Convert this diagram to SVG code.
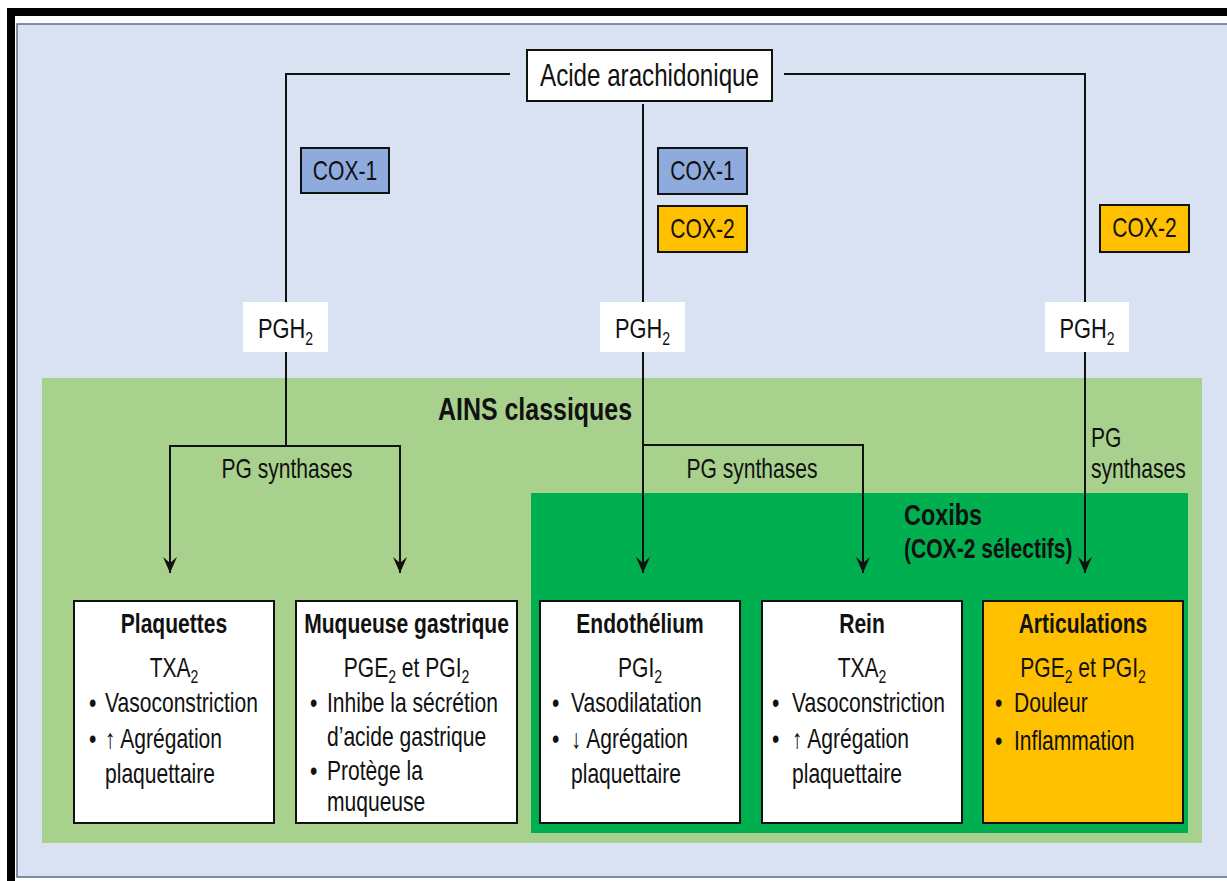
<svg xmlns="http://www.w3.org/2000/svg" width="1227" height="881" viewBox="0 0 1227 881">
<style>
text{font-family:"Liberation Sans",Arial,Helvetica,sans-serif;fill:#111}
.c{text-anchor:middle}
.b{font-weight:bold}
.f27{font-size:27px}
.f28{font-size:28px}
.f31{font-size:31px}
.sub{font-size:18px}
.box{stroke:#111;stroke-width:2}
.white{fill:#fff}
.cox1{fill:#8FAADC}
.cox2{fill:#FFC000}
</style>
<defs>
<marker id="arr" viewBox="-17 -8 18 16" refX="0" refY="0" markerWidth="18" markerHeight="16" markerUnits="userSpaceOnUse" orient="auto">
<path d="M0,0 L-16,-7 L-10,0 L-16,7 Z" fill="#111"/>
</marker>
</defs>
<rect x="0" y="0" width="1227" height="881" fill="#fff"/>
<g id="frame">
<rect x="17" y="24" width="1220" height="853" fill="#D9E2F3" stroke="#5B6B8C" stroke-width="1.5"/>
<rect x="7" y="8" width="1220" height="8" fill="#000"/>
<rect x="7" y="8" width="8" height="873" fill="#000"/>
</g>
<g id="ains-zone">
<rect x="42" y="378" width="1160" height="465" fill="#A9D18E"/>
<text class="b c" style="font-size:32px" transform="translate(535,420) scale(0.78,1)">AINS classiques</text>
</g>
<g id="coxibs-zone">
<rect x="531" y="493" width="657" height="340" fill="#00B050"/>
<text class="b" style="font-size:30px" transform="translate(904,525) scale(0.78,1)">Coxibs</text>
<text class="b f27" transform="translate(904,558) scale(0.78,1)">(COX-2 sélectifs)</text>
</g>
<g id="connectors" fill="none" stroke="#111" stroke-width="2">
<path d="M510,74 H286 V446"/>
<path d="M286,446 H170 V573" marker-end="url(#arr)"/>
<path d="M286,446 H400 V573" marker-end="url(#arr)"/>
<path d="M643,104 V573" marker-end="url(#arr)"/>
<path d="M643,445 H863 V573" marker-end="url(#arr)"/>
<path d="M784,74 H1085 V573" marker-end="url(#arr)"/>
</g>
<g id="edge-labels">
<text class="c f27" transform="translate(287,478) scale(0.78,1)">PG synthases</text>
<text class="c f27" transform="translate(752,478) scale(0.78,1)">PG synthases</text>
<text class="f27" transform="translate(1091,447) scale(0.78,1)">PG</text>
<text class="f27" transform="translate(1091,478) scale(0.78,1)">synthases</text>
</g>
<g id="acide">
<rect class="box white" x="527" y="50" width="245" height="51"/>
<text class="c f31" transform="translate(649.5,86) scale(0.78,1)">Acide arachidonique</text>
</g>
<g id="cox1-left">
<rect class="box cox1" x="301" y="148" width="88" height="45"/>
<text class="c f27" transform="translate(345,180) scale(0.78,1)">COX-1</text>
</g>
<g id="cox1-center">
<rect class="box cox1" x="658" y="148" width="89" height="46"/>
<text class="c f27" transform="translate(702.5,180) scale(0.78,1)">COX-1</text>
</g>
<g id="cox2-center">
<rect class="box cox2" x="658" y="206" width="89" height="46"/>
<text class="c f27" transform="translate(702.5,238) scale(0.78,1)">COX-2</text>
</g>
<g id="cox2-right">
<rect class="box cox2" x="1100" y="205" width="89" height="47"/>
<text class="c f27" transform="translate(1144.5,237) scale(0.78,1)">COX-2</text>
</g>
<g id="pgh2-left">
<rect class="white" x="243" y="302" width="85" height="50"/>
<text class="c f28" transform="translate(285.5,338) scale(0.78,1)">PGH<tspan class="sub" dy="7">2</tspan></text>
</g>
<g id="pgh2-center">
<rect class="white" x="600" y="302" width="85" height="50"/>
<text class="c f28" transform="translate(642.5,338) scale(0.78,1)">PGH<tspan class="sub" dy="7">2</tspan></text>
</g>
<g id="pgh2-right">
<rect class="white" x="1045" y="302" width="84" height="50"/>
<text class="c f28" transform="translate(1087,338) scale(0.78,1)">PGH<tspan class="sub" dy="7">2</tspan></text>
</g>
<g id="plaquettes">
<rect class="box white" x="74" y="601" width="200" height="222"/>
<text class="b c f27" transform="translate(174,633) scale(0.78,1)">Plaquettes</text>
<text class="c f27" transform="translate(174,677) scale(0.78,1)">TXA<tspan class="sub" dy="6">2</tspan></text>
<text class="f27" transform="translate(89,712) scale(0.78,1)">•</text>
<text class="f27" transform="translate(105,712) scale(0.78,1)">Vasoconstriction</text>
<text class="f27" transform="translate(89,748) scale(0.78,1)">•</text>
<text class="f27" transform="translate(105,748) scale(0.78,1)">↑ Agrégation</text>
<text class="f27" transform="translate(105,783) scale(0.78,1)">plaquettaire</text>
</g>
<g id="muqueuse">
<rect class="box white" x="296" y="601" width="221" height="222"/>
<text class="b c f27" transform="translate(406.5,633) scale(0.78,1)">Muqueuse gastrique</text>
<text class="c f27" transform="translate(406.5,677) scale(0.78,1)">PGE<tspan class="sub" dy="6">2</tspan><tspan dy="-6"> et PGI</tspan><tspan class="sub" dy="6">2</tspan></text>
<text class="f27" transform="translate(310,712) scale(0.78,1)">•</text>
<text class="f27" transform="translate(327,712) scale(0.78,1)">Inhibe la sécrétion</text>
<text class="f27" transform="translate(327,746) scale(0.78,1)">d’acide gastrique</text>
<text class="f27" transform="translate(310,780) scale(0.78,1)">•</text>
<text class="f27" transform="translate(327,780) scale(0.78,1)">Protège la</text>
<text class="f27" transform="translate(327,811) scale(0.78,1)">muqueuse</text>
</g>
<g id="endothelium">
<rect class="box white" x="540" y="601" width="200" height="222"/>
<text class="b c f27" transform="translate(640,633) scale(0.78,1)">Endothélium</text>
<text class="c f27" transform="translate(640,677) scale(0.78,1)">PGI<tspan class="sub" dy="6">2</tspan></text>
<text class="f27" transform="translate(552,712) scale(0.78,1)">•</text>
<text class="f27" transform="translate(571,712) scale(0.78,1)">Vasodilatation</text>
<text class="f27" transform="translate(552,748) scale(0.78,1)">•</text>
<text class="f27" transform="translate(571,748) scale(0.78,1)">↓ Agrégation</text>
<text class="f27" transform="translate(571,783) scale(0.78,1)">plaquettaire</text>
</g>
<g id="rein">
<rect class="box white" x="762" y="601" width="200" height="222"/>
<text class="b c f27" transform="translate(862,633) scale(0.78,1)">Rein</text>
<text class="c f27" transform="translate(862,677) scale(0.78,1)">TXA<tspan class="sub" dy="6">2</tspan></text>
<text class="f27" transform="translate(772,712) scale(0.78,1)">•</text>
<text class="f27" transform="translate(792,712) scale(0.78,1)">Vasoconstriction</text>
<text class="f27" transform="translate(772,748) scale(0.78,1)">•</text>
<text class="f27" transform="translate(792,748) scale(0.78,1)">↑ Agrégation</text>
<text class="f27" transform="translate(792,783) scale(0.78,1)">plaquettaire</text>
</g>
<g id="articulations">
<rect class="box cox2" x="983" y="601" width="200" height="222"/>
<text class="b c f27" transform="translate(1083,633) scale(0.78,1)">Articulations</text>
<text class="c f27" transform="translate(1083,677) scale(0.78,1)">PGE<tspan class="sub" dy="6">2</tspan><tspan dy="-6"> et PGI</tspan><tspan class="sub" dy="6">2</tspan></text>
<text class="f27" transform="translate(995,712) scale(0.78,1)">•</text>
<text class="f27" transform="translate(1014,712) scale(0.78,1)">Douleur</text>
<text class="f27" transform="translate(995,750) scale(0.78,1)">•</text>
<text class="f27" transform="translate(1014,750) scale(0.78,1)">Inflammation</text>
</g>
</svg>
